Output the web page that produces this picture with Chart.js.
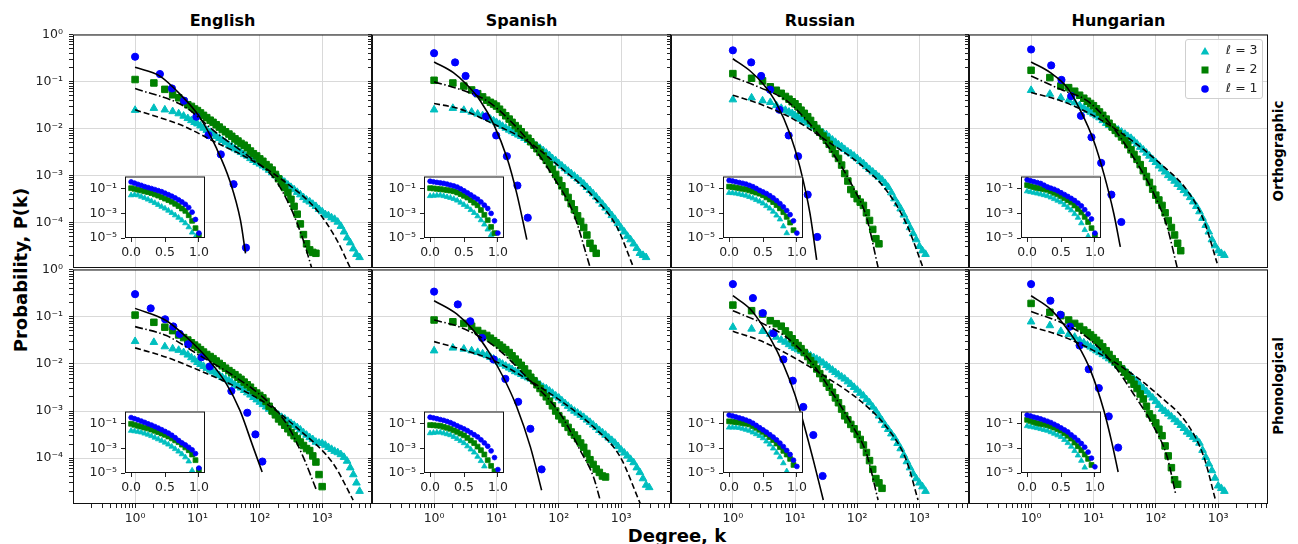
<!DOCTYPE html>
<html>
<head>
<meta charset="utf-8">
<script src="https://cdn.jsdelivr.net/npm/chart.js@4.4.1/dist/chart.umd.min.js"></script>
<style>
  body { margin: 0; background: #fff; width: 1298px; height: 544px; overflow: hidden; position: relative; font-family: "DejaVu Sans", sans-serif; }
  canvas { position: absolute; }
  .lbl { position: absolute; font-weight: bold; color: #000; white-space: nowrap; }
  #legend { position: absolute; left: 1185px; top: 39px; width: 76px; height: 58px; border: 1px solid #cfcfcf; border-radius: 3px; background: rgba(255,255,255,0.85); z-index: 5; }
  #legend .row { position: absolute; left: 0; width: 76px; height: 19px; }
  #legend svg { position: absolute; left: 14px; top: 5px; }
  #legend span { position: absolute; left: 40px; top: 1px; font-size: 12.5px; color: #222; }
</style>
</head>
<body>
<script>
// Degree distributions P(k), l = 1, 2, 3, for four languages (orthographic / phonological)

const languages = ['English', 'Spanish', 'Russian', 'Hungarian'];
const layers = ['Orthographic', 'Phonological'];

// degree grids for the l=2 and l=3 series (main grid + in-between points of the dense band)
const kGrid = [1, 2, 3, 4, 5, 6, 7, 8, 9, 10, 12.5, 16, 20, 25, 32, 40, 50, 63, 79, 100,
  126, 158, 200, 251, 316, 398, 501, 631, 794, 1000, 1259, 1585, 1995, 2512, 3162, 3981];
const kMid = [11.2, 14.1, 17.8, 22.4, 28.2, 35.5, 44.7, 56.2, 70.8, 89.1, 112, 141, 178,
  224, 282, 355, 447, 562, 708, 891, 1122, 1413, 1778, 2239, 2818, 3548];
// x positions for the inset series
const insetX = [0, 0.05, 0.1, 0.15, 0.2, 0.25, 0.3, 0.35, 0.4, 0.45, 0.5, 0.55, 0.6, 0.65, 0.7, 0.75, 0.8, 0.85, 0.9, 0.95, 1.0];

const xTickValues = [1, 10, 100, 1000];
const xTickLabels = ['10⁰', '10¹', '10²', '10³'];
const yTickValues = [1, 0.1, 0.01, 0.001, 0.0001];
const yTickLabels = ['10⁰', '10⁻¹', '10⁻²', '10⁻³', '10⁻⁴'];
const insetXTickValues = [0, 0.5, 1];
const insetXTickLabels = ['0.0', '0.5', '1.0'];
const insetYTickValues = [0.1, 0.001, 0.00001];
const insetYTickLabels = ['10⁻¹', '10⁻³', '10⁻⁵'];

// ---------- English, orthographic ----------
const enOrthL1 = [[1,0.336],[2.5,0.144],[3.9,0.071],[6.1,0.039],[9.6,0.0178],[15,0.0072],[23.7,0.0028],[38,6.5e-4],[60,2.9e-5]];
const enOrthL2 = [0.11,0.093,0.068,0.052,0.045,0.038,0.032,0.0295,0.026,0.024,0.019,0.015,0.012,0.0095,0.0076,0.006,0.0048,0.0039,0.0029,0.00225,0.0017,0.0013,8.5e-4,5.5e-4,3.1e-4,1.5e-4,5.5e-5,2.6e-5,2.2e-5,null,null,null,null,null,null,null];
const enOrthL2m = [0.0214,0.017,0.0135,0.0107,0.0085,0.0068,0.0054,0.0044,0.0033,0.0026,0.002,0.0015,0.00105,6.9e-4,4.3e-4,2.2e-4,9.3e-5,3.5e-5,2.3e-5,null,null,null,null,null,null,null];
const enOrthL3 = [0.0245,0.027,0.025,0.023,0.0207,0.0184,0.0164,0.0148,0.0135,0.0126,0.0102,0.0083,0.0068,0.0056,0.0044,0.0037,0.0031,0.0026,0.0021,0.00176,0.00146,0.00115,9.1e-4,7.2e-4,5.6e-4,4.4e-4,3.4e-4,2.75e-4,2.2e-4,1.7e-4,1.4e-4,1.17e-4,8.3e-5,4.7e-5,2.75e-5,1.8e-5];
const enOrthL3m = [0.0114,0.0092,0.0076,0.0062,0.005,0.0041,0.0034,0.0028,0.0023,0.0019,0.0016,0.0013,0.001,8.1e-4,6.3e-4,5e-4,3.9e-4,3e-4,2.45e-4,1.9e-4,1.48e-4,1.26e-4,1.02e-4,6.3e-5,3.7e-5,2.1e-5];
const enOrthF1 = [[1,0.2],[2.5,0.13],[5.3,0.053],[11,0.017],[20,0.0039],[33,7.7e-4],[49,1.1e-4],[59,2.2e-5]];
const enOrthF2 = [[1,0.071],[6,0.03],[20,0.0081],[70,0.0024],[166,9e-4],[310,2.1e-4],[500,4.1e-5],[690,1e-5]];
const enOrthF3 = [[1,0.025],[6,0.0112],[20,0.005],[70,0.0022],[240,7.7e-4],[830,1.8e-4],[1740,4.1e-5],[2800,1.1e-5]];
const enOrthIn1 = [0.36,0.29,0.23,0.19,0.15,0.126,0.105,0.087,0.071,0.058,0.044,0.033,0.025,0.018,0.0126,0.0085,0.0055,0.003,0.00126,3.2e-4,2.5e-5];
const enOrthIn2 = [0.112,0.1,0.085,0.074,0.063,0.054,0.045,0.035,0.028,0.021,0.0158,0.012,0.0089,0.006,0.004,0.0025,0.0016,7.1e-4,2.5e-4,6.3e-5,1.6e-5];
const enOrthIn3 = [0.03,0.032,0.03,0.023,0.018,0.0135,0.01,0.0071,0.005,0.0035,0.0025,0.0017,0.0011,7.1e-4,4.5e-4,2.7e-4,1.6e-4,7.6e-5,2.8e-5,1.26e-5,null];

// ---------- Spanish, orthographic ----------
const esOrthL1 = [[1,0.40],[2.17,0.255],[3.2,0.131],[4.7,0.057],[6.8,0.018],[9.9,0.0071],[14.7,0.00256],[21.7,6.1e-4],[31.8,1.26e-4]];
const esOrthL2 = [0.106,0.093,0.080,0.066,0.055,0.047,0.040,0.036,0.033,0.030,0.022,0.0158,0.0115,0.0085,0.0062,0.0044,0.0031,0.0021,0.00135,7.9e-4,4.5e-4,2.5e-4,1.38e-4,7.8e-5,3.6e-5,2.2e-5,null,null,null,null,null,null,null,null,null,null];
const esOrthL2m = [0.0257,0.0186,0.0135,0.01,0.0072,0.0052,0.0037,0.0026,0.0017,0.00105,6e-4,3.4e-4,1.86e-4,1.05e-4,5.4e-5,2.8e-5,null,null,null,null,null,null,null,null,null,null];
const esOrthL3 = [0.025,0.027,0.0245,0.0224,0.0204,0.0188,0.0172,0.0158,0.0146,0.0135,0.0112,0.0093,0.0079,0.0068,0.0056,0.0046,0.0038,0.003,0.0023,0.0018,0.0014,0.0011,8.5e-4,6.6e-4,4.8e-4,3.5e-4,2.45e-4,1.7e-4,1.17e-4,7.6e-5,5.1e-5,3.5e-5,2.2e-5,1.8e-5,null,null];
const esOrthL3m = [0.0123,0.0102,0.0086,0.0073,0.0062,0.0051,0.0042,0.0034,0.00266,0.00207,0.0016,0.00124,9.7e-4,7.5e-4,5.6e-4,4.1e-4,2.9e-4,2.04e-4,1.41e-4,9.5e-5,6.3e-5,4.3e-5,2.8e-5,2e-5,null,null];
const esOrthF1 = [[1,0.26],[2.04,0.154],[3.3,0.087],[5.5,0.039],[9,0.0124],[14.7,0.0024],[21.2,4.1e-4],[30.7,4.3e-5]];
const esOrthF2 = [[1,0.098],[2.6,0.068],[7,0.039],[16.6,0.0146],[39,0.004],[82,9.2e-4],[172,1.55e-4],[318,1.1e-5]];
const esOrthF3 = [[1,0.034],[2.6,0.026],[9,0.0124],[30.7,0.0055],[105,0.0015],[360,3.5e-4],[852,8e-5],[1578,1.1e-5]];
const esOrthIn1 = [0.41,0.37,0.33,0.3,0.275,0.24,0.2,0.17,0.138,0.1,0.069,0.047,0.032,0.021,0.0145,0.0085,0.0047,0.0025,0.001,2.5e-4,2.5e-5];
const esOrthIn2 = [0.112,0.107,0.1,0.093,0.087,0.079,0.071,0.063,0.05,0.037,0.027,0.0195,0.012,0.0074,0.0046,0.0019,7.6e-4,2.8e-4,7.9e-5,2.5e-5,null];
const esOrthIn3 = [0.026,0.0275,0.029,0.03,0.026,0.022,0.0186,0.015,0.0112,0.0076,0.005,0.0034,0.0019,0.0011,5.9e-4,2.8e-4,1.26e-4,5e-5,1.8e-5,null,null];

// ---------- Russian, orthographic ----------
const ruOrthL1 = [[1,0.46],[1.97,0.255],[2.85,0.131],[3.97,0.067],[5.6,0.025],[7.9,0.0071],[11.2,0.00256],[16,3.9e-4],[22.8,4.9e-5]];
const ruOrthL2 = [0.147,0.117,0.103,0.077,0.065,0.056,0.048,0.042,0.037,0.0335,0.0245,0.0178,0.012,0.0083,0.0056,0.0036,0.0023,0.0011,5e-4,3.2e-4,2.3e-4,1.1e-4,4.5e-5,null,null,null,null,null,null,null,null,null,null,null,null,null];
const ruOrthL2m = [0.029,0.021,0.0148,0.01,0.0069,0.0046,0.0029,0.00166,7.6e-4,4e-4,2.7e-4,1.6e-4,7.1e-5,3.5e-5,null,null,null,null,null,null,null,null,null,null,null,null];
const ruOrthL3 = [0.041,0.045,0.039,0.036,0.031,0.027,0.0245,0.0224,0.0209,0.019,0.0158,0.0132,0.0108,0.0089,0.0074,0.0057,0.0045,0.0036,0.0029,0.0023,0.0018,0.00135,0.00105,8.1e-4,5.6e-4,3.2e-4,1.95e-4,1.05e-4,5.8e-5,3.1e-5,2.1e-5,null,null,null,null,null];
const ruOrthL3m = [0.0174,0.0145,0.012,0.0098,0.0081,0.0065,0.0051,0.0041,0.0032,0.0026,0.002,0.00155,0.00119,9.2e-4,6.8e-4,4.3e-4,2.5e-4,1.45e-4,7.8e-5,4.3e-5,2.5e-5,null,null,null,null,null];
const ruOrthF1 = [[1,0.305],[1.9,0.167],[3.1,0.087],[5.1,0.033],[8.3,0.0076],[12,0.0015],[17.4,1.55e-4],[22.3,1.6e-5]];
const ruOrthF2 = [[1,0.125],[2.75,0.074],[7.3,0.039],[17.4,0.0124],[41,0.0029],[86,5.6e-4],[141,1.3e-4],[217,1.1e-5]];
const ruOrthF3 = [[1,0.051],[2.75,0.033],[9.4,0.0158],[32,0.0055],[110,0.00176],[296,4.8e-4],[618,9.4e-5],[1145,1.1e-5]];
const ruOrthIn1 = [0.48,0.43,0.37,0.32,0.28,0.24,0.19,0.15,0.107,0.074,0.055,0.041,0.028,0.018,0.011,0.0063,0.0034,0.0017,7.9e-4,2.5e-4,2.5e-5];
const ruOrthIn2 = [0.15,0.138,0.126,0.112,0.1,0.089,0.074,0.06,0.049,0.04,0.03,0.02,0.0135,0.0083,0.0047,0.0026,0.00126,5.2e-4,1.8e-4,4.3e-5,null];
const ruOrthIn3 = [0.047,0.045,0.042,0.037,0.032,0.028,0.022,0.017,0.0126,0.0093,0.0065,0.004,0.0025,0.0014,6.8e-4,3.3e-4,8.9e-5,2.5e-5,null,null,null];

// ---------- Hungarian, orthographic ----------
const huOrthL1 = [[1,0.48],[2.1,0.22],[3.07,0.108],[4.4,0.049],[6.3,0.0186],[9.3,0.0065],[13.3,0.00185],[19.4,3.9e-4],[28,1.02e-4]];
const huOrthL2 = [0.173,0.121,0.080,0.074,0.062,0.051,0.044,0.038,0.034,0.0305,0.0224,0.0158,0.0107,0.0078,0.0055,0.0035,0.0022,0.00126,7.1e-4,3.8e-4,2.3e-4,1.1e-4,5.4e-5,2.5e-5,null,null,null,null,null,null,null,null,null,null,null,null];
const huOrthL2m = [0.0263,0.019,0.0129,0.0091,0.0066,0.0045,0.0028,0.0017,9.5e-4,5.1e-4,3e-4,1.6e-4,7.8e-5,3.6e-5,null,null,null,null,null,null,null,null,null,null,null,null];
const huOrthL3 = [0.065,0.054,0.045,0.04,0.0355,0.031,0.0275,0.0245,0.0224,0.0204,0.017,0.0129,0.0107,0.0093,0.0076,0.0062,0.0047,0.0035,0.0026,0.0019,0.00138,0.001,7.6e-4,5.6e-4,4.1e-4,2.75e-4,1.7e-4,8.7e-5,4.3e-5,2.5e-5,2e-5,null,null,null,null,null];
const huOrthL3m = [0.0186,0.0148,0.0117,0.01,0.0084,0.0068,0.0054,0.004,0.003,0.0022,0.0016,0.00119,8.8e-4,6.5e-4,4.8e-4,3.4e-4,2.2e-4,1.23e-4,6.3e-5,3.2e-5,2.2e-5,null,null,null,null,null];
const huOrthF1 = [[1,0.26],[2.04,0.154],[3.8,0.074],[6.2,0.024],[10.1,0.0055],[14.7,0.00108],[21.2,1.55e-4],[27,3e-5]];
const huOrthF2 = [[1,0.131],[2.96,0.068],[7.9,0.039],[18.7,0.0124],[44,0.0024],[93,4.1e-4],[152,8e-5],[220,1.1e-5]];
const huOrthF3 = [[1,0.058],[2.96,0.039],[10.1,0.0186],[35,0.0065],[119,0.00176],[318,4.8e-4],[589,1.1e-4],[964,1.35e-5]];
const huOrthIn1 = [0.54,0.45,0.38,0.32,0.27,0.195,0.14,0.112,0.091,0.069,0.048,0.034,0.024,0.0166,0.0112,0.0069,0.0041,0.002,8.9e-4,3.5e-4,2.5e-5];
const huOrthIn2 = [0.2,0.166,0.138,0.117,0.105,0.093,0.083,0.063,0.047,0.035,0.026,0.0178,0.0117,0.0078,0.0044,0.0023,0.0012,5.2e-4,2e-4,6.3e-5,1.6e-5];
const huOrthIn3 = [0.063,0.055,0.048,0.042,0.036,0.031,0.026,0.02,0.0148,0.011,0.0081,0.005,0.003,0.0018,8.9e-4,4.5e-4,1.6e-4,4.5e-5,1.4e-5,null,null];

// ---------- English, phonological ----------
const enPhonL1 = [[1,0.30],[1.78,0.15],[3.03,0.088],[4.1,0.062],[5.2,0.043],[7.1,0.026],[11.6,0.0138],[15.8,0.0088],[35,0.00265],[63,9.2e-4],[85,3.2e-4],[110,8.5e-5]];
const enPhonL2 = [0.108,0.076,0.060,0.0506,0.041,0.036,0.032,0.028,0.025,0.0226,0.0178,0.0143,0.0115,0.0091,0.0072,0.0059,0.0047,0.0036,0.0027,0.00214,0.0016,0.001,6.8e-4,5e-4,3.5e-4,2.6e-4,1.86e-4,1.45e-4,8.3e-5,2.5e-5,null,null,null,null,null,null];
const enPhonL2m = [0.02,0.0158,0.0129,0.0102,0.0081,0.0065,0.0052,0.0041,0.0032,0.0024,0.0019,0.00126,8.3e-4,5.9e-4,4.2e-4,3e-4,2.2e-4,1.6e-4,1.12e-4,4.5e-5,null,null,null,null,null,null];
const enPhonL3 = [0.030,0.0287,0.0232,0.0209,0.0195,0.0174,0.0155,0.0136,0.0122,0.0108,0.0089,0.0074,0.0062,0.0052,0.0044,0.0036,0.0031,0.00245,0.00195,0.00155,0.00123,0.001,8.2e-4,6.8e-4,5.5e-4,4.5e-4,3.5e-4,2.75e-4,2.2e-4,2.07e-4,1.7e-4,1.41e-4,1.2e-4,8.7e-5,4.5e-5,2e-5];
const enPhonL3m = [0.0098,0.0081,0.0068,0.0057,0.0048,0.004,0.0034,0.00275,0.0022,0.00174,0.00138,0.0011,9.1e-4,7.4e-4,6.1e-4,5e-4,4e-4,3.1e-4,2.5e-4,2.1e-4,1.9e-4,1.55e-4,1.32e-4,1.05e-4,6.3e-5,3e-5];
const enPhonF1 = [[1,0.15],[3.18,0.082],[6.7,0.0366],[13.9,0.0138],[29,0.0038],[48,0.00103],[78,1.74e-4],[109,5.1e-5]];
const enPhonF2 = [[1,0.0615],[3.18,0.0397],[10.9,0.015],[37,0.0057],[128,0.00168],[268,5.4e-4],[496,1.07e-4],[811,2.1e-5]];
const enPhonF3 = [[1,0.0218],[3.18,0.0138],[10.9,0.0072],[37,0.0035],[128,0.00143],[438,3.9e-4],[1500,7.7e-5],[3140,1.3e-5]];
const enPhonIn1 = [0.32,0.26,0.21,0.166,0.13,0.1,0.079,0.06,0.045,0.033,0.024,0.0174,0.0117,0.0074,0.0044,0.0028,0.0019,0.00123,7.6e-4,3.8e-4,2.5e-5];
const enPhonIn2 = [0.1,0.083,0.069,0.059,0.049,0.042,0.034,0.027,0.021,0.0162,0.0126,0.0093,0.0065,0.0045,0.0032,0.002,0.0012,7.1e-4,3.2e-4,1.1e-4,1.8e-5];
const enPhonIn3 = [0.0275,0.025,0.023,0.02,0.0162,0.0132,0.0102,0.0076,0.0056,0.0042,0.003,0.0021,0.0014,8.9e-4,5.6e-4,3.4e-4,1.9e-4,8.9e-5,1.6e-5,null,null];

// ---------- Spanish, phonological ----------
const esPhonL1 = [[1,0.34],[2.4,0.182],[3.8,0.08],[5.9,0.0354],[9,0.0124],[13.9,0.0048],[22.3,0.00157],[35,4.2e-4],[53,5.8e-5]];
const esPhonL2 = [0.085,0.078,0.072,0.063,0.051,0.044,0.04,0.035,0.031,0.028,0.0224,0.0174,0.0126,0.0093,0.0063,0.0044,0.003,0.002,0.00129,7.9e-4,5.5e-4,3.6e-4,2.6e-4,1.7e-4,9.3e-5,5.9e-5,4.2e-5,null,null,null,null,null,null,null,null,null];
const esPhonL2m = [0.025,0.02,0.0148,0.0108,0.0078,0.0052,0.0036,0.00245,0.00162,0.001,6.6e-4,4.5e-4,3.1e-4,2.1e-4,1.26e-4,7.4e-5,5e-5,4e-5,null,null,null,null,null,null,null,null];
const esPhonL3 = [0.019,0.0218,0.0207,0.019,0.0176,0.0164,0.0151,0.0138,0.0127,0.0117,0.0099,0.0082,0.0069,0.006,0.0051,0.0044,0.0036,0.003,0.0024,0.0019,0.00145,0.00112,9.1e-4,7.4e-4,5.8e-4,4.5e-4,3.5e-4,2.7e-4,2.1e-4,1.5e-4,1.12e-4,8.1e-5,5e-5,2.7e-5,null,null];
const esPhonL3m = [0.0107,0.009,0.0076,0.0065,0.0055,0.0048,0.004,0.0032,0.00266,0.0021,0.00166,0.00127,0.001,8.2e-4,6.5e-4,5.1e-4,3.9e-4,3.1e-4,2.4e-4,1.78e-4,1.3e-4,9.5e-5,6.3e-5,3.7e-5,2.4e-5,null];
const esPhonF1 = [[1,0.218],[2.3,0.114],[4.3,0.0506],[7.9,0.0163],[12.9,0.0052],[21.2,0.00122],[35,1.74e-4],[53,2.1e-5]];
const esPhonF2 = [[1,0.085],[2.6,0.06],[9,0.0244],[30.7,0.0052],[105,8.8e-4],[220,1.48e-4],[360,4e-5],[460,1.3e-5]];
const esPhonF3 = [[1,0.0296],[2.6,0.0207],[9,0.0118],[30.7,0.0048],[105,0.00168],[360,4.6e-4],[964,1.07e-4],[2018,1.1e-5]];
const esPhonIn1 = [0.34,0.3,0.26,0.22,0.19,0.155,0.123,0.093,0.069,0.051,0.038,0.0275,0.019,0.0129,0.0087,0.005,0.0028,0.0015,6.3e-4,1.8e-4,1.9e-5];
const esPhonIn2 = [0.079,0.076,0.071,0.068,0.056,0.047,0.039,0.0295,0.022,0.0158,0.0115,0.0071,0.0044,0.0027,0.0014,7.1e-4,3.2e-4,1.1e-4,3.8e-5,1.4e-5,null];
const esPhonIn3 = [0.0174,0.0186,0.02,0.02,0.017,0.0145,0.012,0.0087,0.006,0.004,0.0027,0.0015,8.3e-4,4.7e-4,2.1e-4,9.5e-5,3.5e-5,null,null,null,null];

// ---------- Russian, phonological ----------
const ruPhonL1 = [[1,0.49],[2.1,0.248],[3.03,0.119],[4.5,0.0445],[6.5,0.0124],[9.2,0.0044],[13.6,0.00122],[19.7,3.1e-4],[27.8,4.2e-5]];
const ruPhonL2 = [0.176,0.134,0.114,0.082,0.071,0.063,0.05,0.041,0.034,0.028,0.021,0.0143,0.0098,0.0062,0.0039,0.0025,0.0015,7.9e-4,5.2e-4,3.2e-4,1.9e-4,8.9e-5,3.7e-5,2.3e-5,null,null,null,null,null,null,null,null,null,null,null,null];
const ruPhonL2m = [0.0245,0.0174,0.0117,0.0078,0.0049,0.0032,0.0019,0.0011,6.5e-4,4.2e-4,2.5e-4,1.32e-4,5.8e-5,3e-5,null,null,null,null,null,null,null,null,null,null,null,null];
const ruPhonL3 = [0.06,0.055,0.049,0.043,0.037,0.032,0.029,0.0257,0.0234,0.0216,0.0186,0.0158,0.0136,0.0117,0.0093,0.0074,0.0059,0.0048,0.0037,0.0028,0.0021,0.0015,0.001,6.3e-4,4.1e-4,2.7e-4,1.6e-4,8.5e-5,4.7e-5,3e-5,2e-5,null,null,null,null,null];
const ruPhonL3m = [0.02,0.0172,0.0148,0.0126,0.0105,0.0083,0.0066,0.0053,0.0042,0.0032,0.0024,0.00176,0.00122,7.9e-4,5e-4,3.3e-4,2.07e-4,1.16e-4,6.3e-5,3.7e-5,2.5e-5,null,null,null,null,null];
const ruPhonF1 = [[1,0.278],[1.9,0.145],[3.1,0.06],[5.1,0.0191],[8.3,0.0044],[12,0.00103],[19.7,9.1e-5],[28.5,1.3e-5]];
const ruPhonF2 = [[1,0.134],[2.75,0.076],[7.3,0.0366],[17.4,0.0118],[41,0.0023],[86,4.6e-4],[141,1.26e-4],[217,1.3e-5]];
const ruPhonF3 = [[1,0.049],[2.75,0.0311],[9.4,0.0138],[32,0.0052],[110,0.00168],[296,4.6e-4],[618,9.1e-5],[953,1.3e-5]];
const ruPhonIn1 = [0.51,0.43,0.36,0.3,0.25,0.2,0.155,0.112,0.074,0.048,0.032,0.021,0.0132,0.0083,0.0049,0.0027,0.0014,6.8e-4,3.2e-4,1.1e-4,3.4e-5];
const ruPhonIn2 = [0.16,0.148,0.138,0.129,0.115,0.102,0.089,0.066,0.047,0.033,0.022,0.0138,0.0083,0.0048,0.0025,0.00126,6.3e-4,3.2e-4,1.4e-4,4.5e-5,null];
const ruPhonIn3 = [0.05,0.05,0.05,0.047,0.04,0.033,0.0275,0.02,0.0145,0.0105,0.0068,0.0037,0.0021,0.001,4.5e-4,1.95e-4,6.3e-5,1.4e-5,null,null,null];

// ---------- Hungarian, phonological ----------
const huPhonL1 = [[1,0.49],[2.04,0.218],[2.96,0.11],[4.2,0.0615],[6.0,0.0244],[8.4,0.0077],[12.2,0.00306],[17.6,7.7e-4],[24.9,1.68e-4]];
const huPhonL2 = [0.191,0.124,0.105,0.085,0.072,0.062,0.052,0.046,0.041,0.036,0.0275,0.019,0.0129,0.0095,0.0066,0.0046,0.003,0.0018,8.7e-4,5.6e-4,3e-4,1.12e-4,3.5e-5,null,null,null,null,null,null,null,null,null,null,null,null,null];
const huPhonL2m = [0.0316,0.0229,0.0158,0.0111,0.0079,0.0055,0.0037,0.0023,0.00126,7.1e-4,4.1e-4,1.82e-4,6.3e-5,2.8e-5,null,null,null,null,null,null,null,null,null,null,null,null];
const huPhonL3 = [0.078,0.065,0.049,0.042,0.037,0.0316,0.028,0.025,0.0229,0.0209,0.0174,0.0143,0.0117,0.0091,0.0071,0.0055,0.0041,0.003,0.0022,0.0016,0.0011,8.7e-4,6.6e-4,5e-4,3.6e-4,2.8e-4,2.1e-4,1.05e-4,5.5e-5,2.6e-5,2e-5,null,null,null,null,null];
const huPhonL3m = [0.019,0.0158,0.0129,0.0104,0.008,0.0062,0.0047,0.0035,0.0026,0.0019,0.00133,9.9e-4,7.6e-4,5.8e-4,4.3e-4,3.2e-4,2.5e-4,1.48e-4,7.6e-5,3.8e-5,2.3e-5,null,null,null,null,null];
const huPhonF1 = [[1,0.278],[2.04,0.145],[3.3,0.07],[5.5,0.0265],[9,0.0072],[14.7,0.00103],[19.9,2.04e-4],[24.9,5.1e-5]];
const huPhonF2 = [[1,0.128],[2.96,0.076],[7.9,0.0366],[18.7,0.0118],[44,0.0023],[93,4.6e-4],[152,1.07e-4],[207,1.8e-5]];
const huPhonF3 = [[1,0.0615],[2.96,0.0397],[10.1,0.0191],[35,0.0072],[119,0.002],[318,5.4e-4],[589,1.07e-4],[906,1.3e-5]];
const huPhonIn1 = [0.51,0.43,0.35,0.3,0.25,0.2,0.16,0.126,0.091,0.066,0.046,0.032,0.022,0.0126,0.0079,0.0045,0.0025,0.00126,5e-4,1.6e-4,3.2e-5];
const huPhonIn2 = [0.21,0.17,0.135,0.112,0.1,0.089,0.079,0.063,0.049,0.037,0.0275,0.0174,0.0107,0.0063,0.003,0.0015,7.1e-4,3.2e-4,1.4e-4,4.5e-5,null];
const huPhonIn3 = [0.066,0.058,0.051,0.045,0.038,0.032,0.0275,0.021,0.0158,0.0117,0.0087,0.005,0.00275,0.0014,6.3e-4,2.7e-4,1e-4,2.8e-5,null,null,null];

const panels = [
  { row: 0, col: 0, l1: enOrthL1, l2: [enOrthL2, enOrthL2m], l3: [enOrthL3, enOrthL3m], f: [enOrthF1, enOrthF2, enOrthF3], ins: [enOrthIn1, enOrthIn2, enOrthIn3] },
  { row: 0, col: 1, l1: esOrthL1, l2: [esOrthL2, esOrthL2m], l3: [esOrthL3, esOrthL3m], f: [esOrthF1, esOrthF2, esOrthF3], ins: [esOrthIn1, esOrthIn2, esOrthIn3] },
  { row: 0, col: 2, l1: ruOrthL1, l2: [ruOrthL2, ruOrthL2m], l3: [ruOrthL3, ruOrthL3m], f: [ruOrthF1, ruOrthF2, ruOrthF3], ins: [ruOrthIn1, ruOrthIn2, ruOrthIn3] },
  { row: 0, col: 3, l1: huOrthL1, l2: [huOrthL2, huOrthL2m], l3: [huOrthL3, huOrthL3m], f: [huOrthF1, huOrthF2, huOrthF3], ins: [huOrthIn1, huOrthIn2, huOrthIn3] },
  { row: 1, col: 0, l1: enPhonL1, l2: [enPhonL2, enPhonL2m], l3: [enPhonL3, enPhonL3m], f: [enPhonF1, enPhonF2, enPhonF3], ins: [enPhonIn1, enPhonIn2, enPhonIn3] },
  { row: 1, col: 1, l1: esPhonL1, l2: [esPhonL2, esPhonL2m], l3: [esPhonL3, esPhonL3m], f: [esPhonF1, esPhonF2, esPhonF3], ins: [esPhonIn1, esPhonIn2, esPhonIn3] },
  { row: 1, col: 2, l1: ruPhonL1, l2: [ruPhonL2, ruPhonL2m], l3: [ruPhonL3, ruPhonL3m], f: [ruPhonF1, ruPhonF2, ruPhonF3], ins: [ruPhonIn1, ruPhonIn2, ruPhonIn3] },
  { row: 1, col: 3, l1: huPhonL1, l2: [huPhonL2, huPhonL2m], l3: [huPhonL3, huPhonL3m], f: [huPhonF1, huPhonF2, huPhonF3], ins: [huPhonIn1, huPhonIn2, huPhonIn3] },
];

// ---------- layout / style ----------
const colLeft = [73, 372, 671, 969];
const colWidth = [299, 299, 298, 299];
const rowTop = [33, 268];
const rowHeight = [235, 236];
const PAD = { l: 60, r: 12, t: 12, b: 30 };
const IPAD = { l: 48, r: 10, t: 8, b: 24 };
const INSET = { dx: 52, dy: 140, w: 80, h: 65 };
const X_MIN = 0.101, X_MAX = 6300, Y_MIN = 1.07e-5, Y_MAX = 1;
const BLUE = '#0000ff', GREEN = '#008000', CYAN = '#00bfbf';
const TICK_FONT = { family: 'DejaVu Sans', size: 12.5 };

Chart.defaults.font.family = 'DejaVu Sans';

function isDecade(v) {
  const l = Math.log10(v);
  return Math.abs(l - Math.round(l)) < 1e-9;
}

function logTickList(lo, hi) {
  const out = [];
  for (let e = Math.floor(Math.log10(lo)); e <= Math.ceil(Math.log10(hi)); e++) {
    for (let m = 1; m <= 9; m++) {
      const v = parseFloat((m * Math.pow(10, e)).toPrecision(6));
      if (v >= lo && v <= hi) out.push({ value: v });
    }
  }
  return out;
}

function labeler(values, labels, show) {
  return (v) => {
    if (!show) return '';
    const i = values.indexOf(v);
    return i >= 0 ? labels[i] : '';
  };
}

function makeCanvas(left, top, w, h, z) {
  const c = document.createElement('canvas');
  c.width = w; c.height = h;
  c.style.left = left + 'px';
  c.style.top = top + 'px';
  c.style.width = w + 'px';
  c.style.height = h + 'px';
  c.style.zIndex = z;
  document.body.appendChild(c);
  return c;
}

const pairs = list => list.map(p => ({ x: p[0], y: p[1] }));
const onGrid = (xs, ys) => xs.map((x, i) => ({ x, y: ys[i] })).filter(p => p.y !== null);
const band = ([main, mid]) => onGrid(kGrid, main).concat(onGrid(kMid, mid)).sort((a, b) => a.x - b.x);

const framePlugin = {
  id: 'frame',
  beforeDraw(chart, args, opts) {
    if (!opts.fill) return;
    const a = chart.chartArea, ctx = chart.ctx;
    ctx.save();
    ctx.fillStyle = '#fff';
    ctx.fillRect(a.left, a.top, a.right - a.left, a.bottom - a.top);
    ctx.restore();
  },
  afterDraw(chart) {
    const a = chart.chartArea, ctx = chart.ctx;
    ctx.save();
    ctx.strokeStyle = '#111';
    ctx.lineWidth = 1;
    ctx.strokeRect(a.left + 0.5, a.top + 0.5, a.right - a.left - 1, a.bottom - a.top - 1);
    ctx.restore();
  }
};

function fitSet(data, dash) {
  return {
    data: pairs(data), showLine: true, borderColor: '#000', borderWidth: 1.6, borderDash: dash,
    pointRadius: 0, cubicInterpolationMode: 'monotone', fill: false, clip: 0
  };
}

function markSet(data, style, color, r, bw) {
  return {
    data, showLine: false, pointStyle: style, pointRadius: r,
    backgroundColor: color, borderColor: color, borderWidth: bw, clip: 0
  };
}

function drawPanel(p) {
  const W = colWidth[p.col], H = rowHeight[p.row];
  const cv = makeCanvas(colLeft[p.col] - PAD.l, rowTop[p.row] - PAD.t, PAD.l + W + PAD.r, PAD.t + H + PAD.b, 1);
  const xTicks = logTickList(X_MIN, X_MAX);
  const yTicks = logTickList(Y_MIN, Y_MAX);
  const gridColor = ctx => (ctx.tick && isDecade(ctx.tick.value)) ? '#d9d9d9' : 'rgba(0,0,0,0)';
  new Chart(cv, {
    type: 'scatter',
    data: {
      datasets: [
        fitSet(p.f[0], []),
        fitSet(p.f[1], [8, 2.5, 1.5, 2.5]),
        fitSet(p.f[2], [6, 3]),
        markSet(pairs(p.l1), 'circle', BLUE, 3.6, 1),
        markSet(band(p.l2), 'rect', GREEN, 4.6, 1),
        markSet(band(p.l3), 'triangle', CYAN, 4.4, 1),
      ]
    },
    options: {
      responsive: false, animation: false, devicePixelRatio: 1, events: [],
      layout: { padding: { top: PAD.t, right: PAD.r, left: 0, bottom: 0 } },
      plugins: { legend: { display: false }, tooltip: { enabled: false }, frame: { fill: false } },
      scales: {
        x: {
          type: 'logarithmic', min: X_MIN, max: X_MAX,
          afterBuildTicks: s => { s.ticks = xTicks.map(t => ({ value: t.value })); },
          afterFit: s => { s.height = PAD.b; },
          border: { display: false },
          grid: { color: gridColor, tickColor: '#222', tickLength: 4, lineWidth: 1, drawTicks: p.row === 1 },
          ticks: { callback: labeler(xTickValues, xTickLabels, p.row === 1), autoSkip: false, maxRotation: 0, minRotation: 0, padding: 3, color: '#222', font: TICK_FONT }
        },
        y: {
          type: 'logarithmic', min: Y_MIN, max: Y_MAX,
          afterBuildTicks: s => { s.ticks = yTicks.map(t => ({ value: t.value })); },
          afterFit: s => { s.width = PAD.l; },
          border: { display: false },
          grid: { color: gridColor, tickColor: '#222', tickLength: 4, lineWidth: 1 },
          ticks: { callback: labeler(yTickValues, yTickLabels, p.col === 0), autoSkip: false, padding: 6, color: '#222', font: TICK_FONT }
        }
      }
    },
    plugins: [framePlugin]
  });
}

function drawInset(p) {
  const left = colLeft[p.col] + INSET.dx, top = rowTop[p.row] + INSET.dy;
  const cv = makeCanvas(left - IPAD.l, top - IPAD.t, IPAD.l + INSET.w + IPAD.r, IPAD.t + INSET.h + IPAD.b, 3);
  new Chart(cv, {
    type: 'scatter',
    data: {
      datasets: [
        markSet(onGrid(insetX, p.ins[0]), 'circle', BLUE, 2.4, 0.8),
        markSet(onGrid(insetX, p.ins[1]), 'rect', GREEN, 3.4, 0.8),
        markSet(onGrid(insetX, p.ins[2]), 'triangle', CYAN, 3.2, 0.8),
      ]
    },
    options: {
      responsive: false, animation: false, devicePixelRatio: 1, events: [],
      layout: { padding: { top: IPAD.t, right: IPAD.r, left: 0, bottom: 0 } },
      plugins: { legend: { display: false }, tooltip: { enabled: false }, frame: { fill: true } },
      scales: {
        x: {
          type: 'linear', min: -0.09, max: 1.09,
          afterBuildTicks: s => { s.ticks = insetXTickValues.map(v => ({ value: v })); },
          afterFit: s => { s.height = IPAD.b; },
          border: { display: false },
          grid: { drawOnChartArea: false, tickColor: '#222', tickLength: 4 },
          ticks: { callback: labeler(insetXTickValues, insetXTickLabels, true), autoSkip: false, maxRotation: 0, minRotation: 0, padding: 3, color: '#222', font: TICK_FONT }
        },
        y: {
          type: 'logarithmic', min: 1e-5, max: 1,
          afterBuildTicks: s => { s.ticks = insetYTickValues.map(v => ({ value: v })); },
          afterFit: s => { s.width = IPAD.l; },
          border: { display: false },
          grid: { drawOnChartArea: false, tickColor: '#222', tickLength: 4 },
          ticks: { callback: labeler(insetYTickValues, insetYTickLabels, true), autoSkip: false, padding: 4, color: '#222', font: TICK_FONT }
        }
      }
    },
    plugins: [framePlugin]
  });
}

function place(text, x, y, size, rotate) {
  const d = document.createElement('div');
  d.className = 'lbl';
  d.textContent = text;
  d.style.left = x + 'px';
  d.style.top = y + 'px';
  d.style.fontSize = size + 'px';
  d.style.transform = 'translate(-50%, -50%)' + (rotate ? ' rotate(' + rotate + 'deg)' : '');
  document.body.appendChild(d);
}

panels.forEach(drawPanel);
panels.forEach(drawInset);

languages.forEach((name, i) => place(name, colLeft[i] + colWidth[i] / 2, 20, 16));
layers.forEach((name, i) => place(name, 1278, rowTop[i] + rowHeight[i] / 2, 13.5, -90));
place('Probability, P(k)', 20, 270, 18, -90);
place('Degree, k', 677, 535, 18);

// legend in the top-right panel
const legendItems = [
  { label: '3', svg: '<svg width="10" height="10"><polygon points="5,1 9.3,8.6 0.7,8.6" fill="' + CYAN + '"/></svg>' },
  { label: '2', svg: '<svg width="10" height="10"><rect x="1.5" y="1.5" width="7" height="7" fill="' + GREEN + '"/></svg>' },
  { label: '1', svg: '<svg width="10" height="10"><circle cx="5" cy="5" r="3.8" fill="' + BLUE + '"/></svg>' },
];
const legend = document.createElement('div');
legend.id = 'legend';
legendItems.forEach((it, i) => {
  const row = document.createElement('div');
  row.className = 'row';
  row.style.top = (1 + i * 19) + 'px';
  row.innerHTML = it.svg + '<span><i>ℓ</i> = ' + it.label + '</span>';
  legend.appendChild(row);
});
document.body.appendChild(legend);
</script>
</body>
</html>
